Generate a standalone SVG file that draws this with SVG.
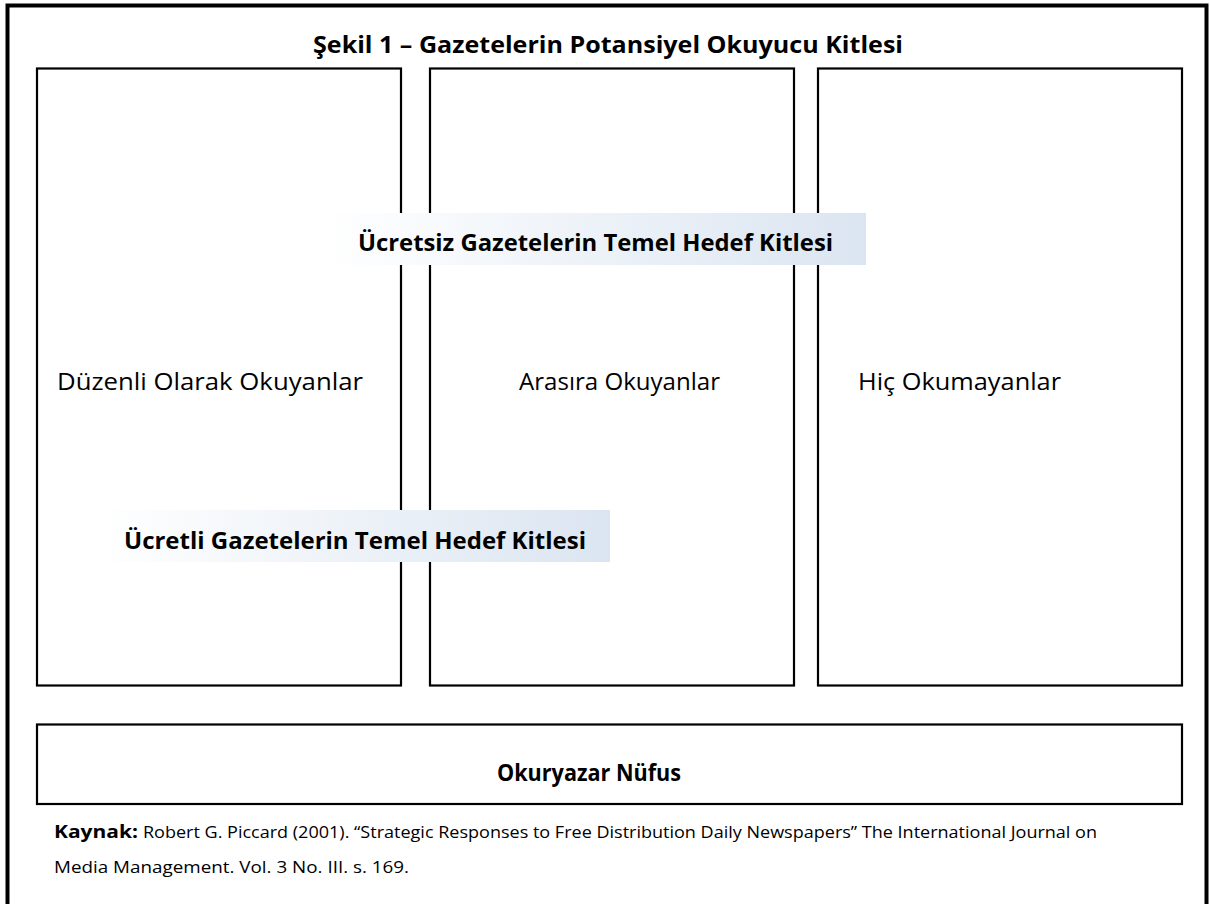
<svg xmlns="http://www.w3.org/2000/svg" width="1210" height="904" viewBox="0 0 1210 904">
<style>
.box{fill:#ffffff;stroke:#000000;stroke-width:2.2}
.t{font-family:"Open Sans","Liberation Sans",sans-serif;fill:#000000}
.b{font-weight:bold}
.band{fill:url(#bandGrad)}
</style>
<defs>
<linearGradient id="bandGrad" x1="0" y1="0" x2="1" y2="0">
<stop offset="0" stop-color="#ffffff"/>
<stop offset="1" stop-color="#dbe5f1"/>
</linearGradient>
</defs>
<rect x="0" y="0" width="1210" height="904" fill="#ffffff"/>
<rect id="frame" x="7.5" y="5.5" width="1199" height="910" fill="none" stroke="#000000" stroke-width="4"/>
<text id="title" class="t b" x="608" y="53" font-size="23" text-anchor="middle" textLength="590" lengthAdjust="spacingAndGlyphs">Şekil 1 – Gazetelerin Potansiyel Okuyucu Kitlesi</text>
<g id="box-duzenli">
<rect class="box" x="37" y="68.5" width="364" height="617"/>
<text class="t" x="57" y="390" font-size="23" textLength="306" lengthAdjust="spacingAndGlyphs">Düzenli Olarak Okuyanlar</text>
</g>
<g id="box-arasira">
<rect class="box" x="430" y="68.5" width="364" height="617"/>
<text class="t" x="519" y="390" font-size="23" textLength="201" lengthAdjust="spacingAndGlyphs">Arasıra Okuyanlar</text>
</g>
<g id="box-hic">
<rect class="box" x="818" y="68.5" width="364" height="617"/>
<text class="t" x="858" y="390" font-size="23" textLength="203" lengthAdjust="spacingAndGlyphs">Hiç Okumayanlar</text>
</g>
<g id="band-ucretsiz">
<rect class="band" x="325" y="213" width="541" height="52"/>
<text class="t b" x="358" y="251" font-size="23" textLength="475" lengthAdjust="spacingAndGlyphs">Ücretsiz Gazetelerin Temel Hedef Kitlesi</text>
</g>
<g id="band-ucretli">
<rect class="band" x="97" y="510" width="513" height="52"/>
<text class="t b" x="124" y="549" font-size="23" textLength="462" lengthAdjust="spacingAndGlyphs">Ücretli Gazetelerin Temel Hedef Kitlesi</text>
</g>
<g id="box-okuryazar">
<rect class="box" x="37" y="724.5" width="1145" height="79.5"/>
<text class="t b" x="589" y="781" font-size="23" text-anchor="middle" textLength="184" lengthAdjust="spacingAndGlyphs">Okuryazar Nüfus</text>
</g>
<g id="connectors"></g>
<g id="source">
<text class="t b" x="54" y="838" font-size="17" textLength="84" lengthAdjust="spacingAndGlyphs">Kaynak:</text>
<text class="t" x="143" y="838" font-size="17" textLength="954" lengthAdjust="spacingAndGlyphs">Robert G. Piccard (2001). “Strategic Responses to Free Distribution Daily Newspapers” The International Journal on</text>
<text class="t" x="54" y="873" font-size="17" textLength="355" lengthAdjust="spacingAndGlyphs">Media Management. Vol. 3 No. III. s. 169.</text>
</g>
</svg>
